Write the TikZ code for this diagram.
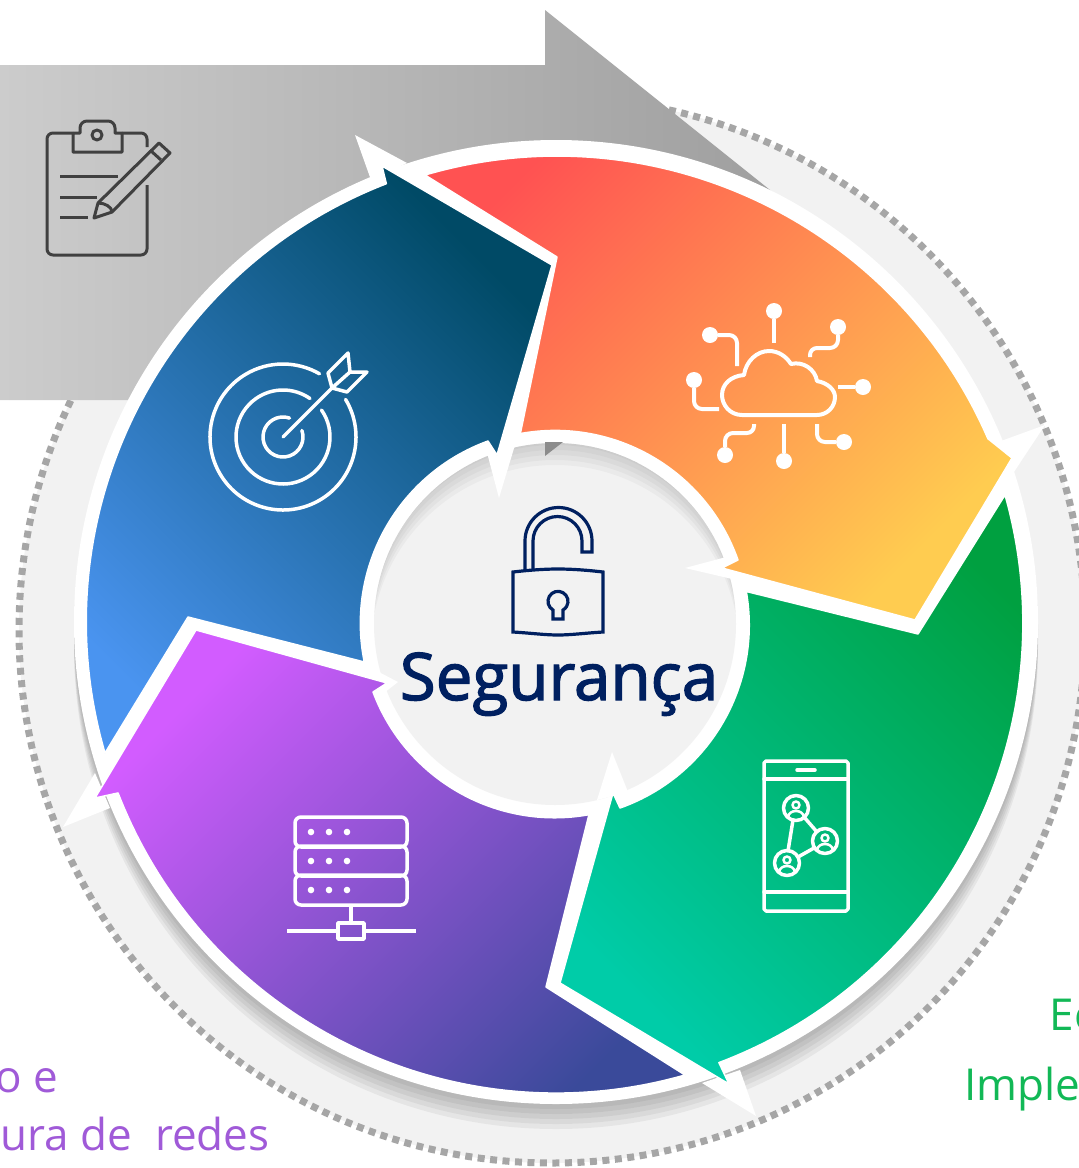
\documentclass[tikz,border=0pt]{standalone}
\usepackage{fontspec}
\setmainfont{Open Sans}
\newfontfamily\headfont[FakeBold=2]{Open Sans}
\definecolor{ringgrey}{HTML}{A6A6A6}
\definecolor{diskgrey}{HTML}{F2F2F2}
\definecolor{iconnavy}{HTML}{002060}
\definecolor{icondark}{HTML}{404040}
\definecolor{labelpurple}{HTML}{A05AD8}
\definecolor{labelgreen}{HTML}{12B856}
\definecolor{bluea}{HTML}{4A94F0}
\definecolor{blueb}{HTML}{0064A0}
\definecolor{bluec}{HTML}{004A66}
\definecolor{orangea}{HTML}{FF5252}
\definecolor{orangeb}{HTML}{FF8F50}
\definecolor{orangec}{HTML}{FFCC50}
\definecolor{greena}{HTML}{00CCA8}
\definecolor{greenb}{HTML}{00B678}
\definecolor{greenc}{HTML}{00A040}
\definecolor{purplea}{HTML}{D25CFF}
\definecolor{purpleb}{HTML}{9A52D6}
\definecolor{purplec}{HTML}{3A4A9A}
\tikzset{
    part/.style={draw=white, line width=1.5, line join=round},
    spur/.style={fill=white},
    iconline/.style={draw=white, line width=3.5, line cap=round, line join=round},
    darkline/.style={draw=icondark, line width=3, line join=round},
    navyline/.style={draw=iconnavy, line width=3.2, line join=miter},
    dotnode/.style={circle, fill=white, inner sep=0pt, minimum size=16},
}
\begin{document}
\begin{tikzpicture}[x=1pt, y=1pt]
    \clip (0,0) rectangle (1079,-1168);

    % disk behind the wheel
    \fill[diskgrey] (552,-630) circle[radius=533];
    \draw[ringgrey, line width=7, dash pattern=on 7 off 5.5] (552,-630) circle[radius=533];

    % grey arrow
    \shade[left color=black!20, right color=black!38]
        (0,-65) -- (545,-65) -- (545,-10) -- (790,-206) -- (790,-400) -- (0,-400) -- cycle;

    % shadow of the wheel
    \foreach \d in {5,10,15,20,25}
        \fill[black, opacity=0.05] (556,-622-\d) circle[radius=482];

    % white ring under the parts, centre disk with its shadow
    \fill[white] (556,-622) circle[radius=482];
    \fill[diskgrey] (555,-624) circle[radius=181];
    \begin{scope}
        \clip (555,-624) circle[radius=181];
        \foreach \d in {5,10,15,20,25}
            \fill[black, opacity=0.03, even odd rule] (555,-624) circle[radius=184] (555,-624-\d) circle[radius=184];
    \end{scope}
    \fill[black!45] (545,-442) -- (563,-442) -- (545,-456) -- cycle;

    % blue part
    \fill[spur] (355,-135) -- (407,-163) -- (371,-180) -- cycle;
    \fill[spur] (499,-498) -- (485,-445) -- (515,-445) -- cycle;
    \shade[part, left color=bluea, middle color=blueb, right color=bluec, shading angle=135]
        (105,-753) arc[start angle=196.2, end angle=111.2, radius=470]
        -- (382,-166) -- (552,-265) -- (497,-455) -- (488,-441)
        arc[start angle=110, end angle=191.5, radius=194]
        -- (188,-617) -- cycle;

    % orange part
    \fill[spur] (1045,-425) -- (990,-445) -- (1010,-478) -- cycle;
    \fill[spur] (685,-568) -- (745,-552) -- (745,-582) -- cycle;
    \shade[part, left color=orangea, middle color=orangeb, right color=orangec, shading angle=45]
        (425,-175) arc[start angle=106.3, end angle=23.5, radius=470]
        -- (1012,-458) -- (915,-620) -- (722,-568) -- (738,-560)
        arc[start angle=19.4, end angle=100.3, radius=194]
        -- (557,-257) -- cycle;

    % green part
    \fill[spur] (756,-1116) -- (702,-1083) -- (740,-1070) -- cycle;
    \fill[spur] (612,-752) -- (597,-800) -- (628,-792) -- cycle;
    \shade[part, left color=greena, middle color=greenb, right color=greenc, shading angle=135]
        (1005,-495) arc[start angle=15.8, end angle=-69.3, radius=470]
        -- (729,-1084) -- (560,-983) -- (613,-793) -- (620,-808)
        arc[start angle=289.5, end angle=370, radius=194]
        -- (918,-634) -- cycle;

    % purple part
    \fill[spur] (63,-827) -- (95,-773) -- (110,-808) -- cycle;
    \fill[spur] (398,-682) -- (375,-670) -- (375,-700) -- cycle;
    \shade[part, left color=purplea, middle color=purpleb, right color=purplec, shading angle=45]
        (685,-1075) arc[start angle=285.9, end angle=201.2, radius=470]
        -- (95,-798) -- (196,-630) -- (387,-683) -- (373,-692)
        arc[start angle=200.6, end angle=280.2, radius=194]
        -- (546,-987) -- cycle;

    % centre
    \draw[navyline] (513,-572) .. controls (530,-570) and (545,-569) .. (558,-569)
        .. controls (571,-569) and (586,-570) .. (603,-572) -- (603,-632)
        .. controls (586,-633) and (571,-635) .. (558,-635)
        .. controls (545,-635) and (530,-633) .. (513,-632) -- cycle;
    \draw[navyline] (525,-571) -- (525,-541) arc[start angle=180, end angle=0, radius=33.5]
        -- (592,-552) -- (582,-552) -- (582,-541) arc[start angle=0, end angle=180, radius=24.5]
        -- (533,-570);
    \draw[navyline] (553,-619) -- (553,-610) arc[start angle=240, end angle=-60, radius=10]
        -- (563,-619) -- cycle;
    \node[text=iconnavy, font=\headfont\fontsize{65.5}{65.5}\selectfont, anchor=base] (titletext) at (559,-700) {Segurança};

    % clipboard
    \draw[darkline] (73,-133) -- (53,-133) arc[start angle=90, end angle=180, radius=6] -- (47,-249)
        arc[start angle=180, end angle=270, radius=6] -- (141,-255)
        arc[start angle=270, end angle=360, radius=6] -- (147,-185);
    \draw[darkline] (147,-147) -- (147,-139) arc[start angle=0, end angle=90, radius=6] -- (122,-133);
    \draw[darkline] (73,-133) -- (73,-152) -- (122,-152) -- (122,-133) -- (115,-133)
        -- (115,-128) arc[start angle=0, end angle=90, radius=7] -- (87,-121)
        arc[start angle=90, end angle=180, radius=7] -- (80,-133) -- (73,-133);
    \draw[darkline] (97,-135) circle[radius=5];
    \draw[darkline] (60,-176) -- (118,-176) (60,-197) -- (97,-197) (60,-217) -- (88,-217);
    \draw[darkline] (94,-218) -- (98,-203) -- (159,-143) -- (170,-153) -- (112,-212) -- cycle;
    \draw[darkline] (150,-150) -- (161,-160) (98,-203) .. controls (105,-203) and (112,-207) .. (112,-212);

    % target
    \draw[iconline] (283,-437) ++(31:73) arc[start angle=31, end angle=-300, radius=73];
    \draw[iconline] (283,-437) ++(35:47) arc[start angle=35, end angle=-305, radius=47];
    \draw[iconline] (283,-437) ++(19:20) arc[start angle=19, end angle=-289, radius=20];
    \draw[iconline] (283,-437) -- (332,-388);
    \draw[iconline] (332,-388) -- (328,-373) -- (348,-353) -- (350,-372) -- (367,-372) -- (347,-392) -- (332,-388) -- (350,-372);

    % cloud
    \draw[iconline, line width=4] (742,-415) .. controls (730,-415) and (722,-405) .. (722,-395)
        .. controls (722,-384) and (731,-376) .. (744,-375) .. controls (746,-361) and (757,-351) .. (769,-351)
        .. controls (778,-351) and (786,-356) .. (791,-364) .. controls (803,-361) and (815,-369) .. (817,-381)
        .. controls (828,-383) and (835,-390) .. (835,-397) .. controls (835,-407) and (827,-415) .. (817,-415) -- cycle;
    \node[dotnode] (dota) at (774,-311) {};
    \node[dotnode] (dotb) at (838,-327) {};
    \node[dotnode] (dotc) at (863,-387) {};
    \node[dotnode] (dotd) at (844,-442) {};
    \node[dotnode] (dote) at (784,-461) {};
    \node[dotnode] (dotf) at (725,-455) {};
    \node[dotnode] (dotg) at (694,-380) {};
    \node[dotnode] (doth) at (710,-335) {};
    \draw[iconline, line width=4, line cap=butt] (dota) -- (774,-343);
    \draw[iconline, line width=4, line cap=butt] (dotb) -- (838,-340) arc[start angle=0, end angle=-90, radius=8] -- (817,-348) arc[start angle=90, end angle=180, radius=7] -- (810,-357);
    \draw[iconline, line width=4, line cap=butt] (dotc) -- (838,-387);
    \draw[iconline, line width=4, line cap=butt] (dotd) -- (825,-442) arc[start angle=270, end angle=180, radius=8] -- (817,-424);
    \draw[iconline, line width=4, line cap=butt] (dote) -- (784,-424);
    \draw[iconline, line width=4, line cap=butt] (dotf) -- (725,-441) arc[start angle=180, end angle=90, radius=8] -- (747,-433) arc[start angle=270, end angle=360, radius=7] -- (754,-424);
    \draw[iconline, line width=4, line cap=butt] (dotg) -- (694,-401) arc[start angle=180, end angle=270, radius=8] -- (719,-409);
    \draw[iconline, line width=4, line cap=butt] (doth) -- (729,-335) arc[start angle=90, end angle=0, radius=8] -- (737,-366);

    % phone
    \draw[iconline] (766,-761) -- (846,-761) -- (848,-763) -- (848,-909) -- (846,-911) -- (766,-911) -- (764,-909) -- (764,-763) -- cycle;
    \draw[iconline] (764,-779) -- (848,-779) (764,-892) -- (848,-892) (797,-770) -- (815,-770);
    \foreach \x/\y in {796/808, 825/841, 787/863} {
        \draw[iconline] (\x,-\y) circle[radius=12.5];
        \draw[iconline, line width=2.5] (\x,-\y+3) circle[radius=3.5];
        \draw[iconline, line width=2.5] (\x-8,-\y-9) .. controls (\x-7,-\y-1) and (\x+7,-\y-1) .. (\x+8,-\y-9);
    }
    \draw[iconline] (793,-820) -- (788,-851) (804,-817) -- (817,-832) (814,-848) -- (798,-857);

    % server
    \foreach \y in {817,846,875} {
        \draw[iconline] (295,-\y-6) arc[start angle=180, end angle=90, radius=6] -- (401,-\y)
            arc[start angle=90, end angle=0, radius=6] -- (407,-\y-24)
            arc[start angle=0, end angle=-90, radius=6] -- (301,-\y-30)
            arc[start angle=270, end angle=180, radius=6] -- cycle;
        \foreach \x in {311,329,347}
            \fill[white] (\x,-\y-15) circle[radius=3.3];
    }
    \draw[iconline, line cap=butt] (351,-905) -- (351,-923);
    \draw[iconline, line cap=butt] (338,-923) rectangle (364,-939);
    \draw[iconline, line cap=butt] (287,-931) -- (338,-931) (364,-931) -- (416,-931);

    % side labels
    \node[text=labelpurple, font=\fontsize{44}{44}\selectfont, anchor=base west] (labela) at (-8,-1092) {o e};
    \node[text=labelpurple, font=\fontsize{44}{44}\selectfont, anchor=base west] (labelb) at (-3,-1150) {ura de\ \ redes};
    \node[text=labelgreen, font=\fontsize{44}{44}\selectfont, anchor=base west] (labelc) at (1046,-1030) {Ec};
    \node[text=labelgreen, font=\fontsize{44}{44}\selectfont, anchor=base west] (labeld) at (961,-1100) {Imple};
\end{tikzpicture}
\end{document}
